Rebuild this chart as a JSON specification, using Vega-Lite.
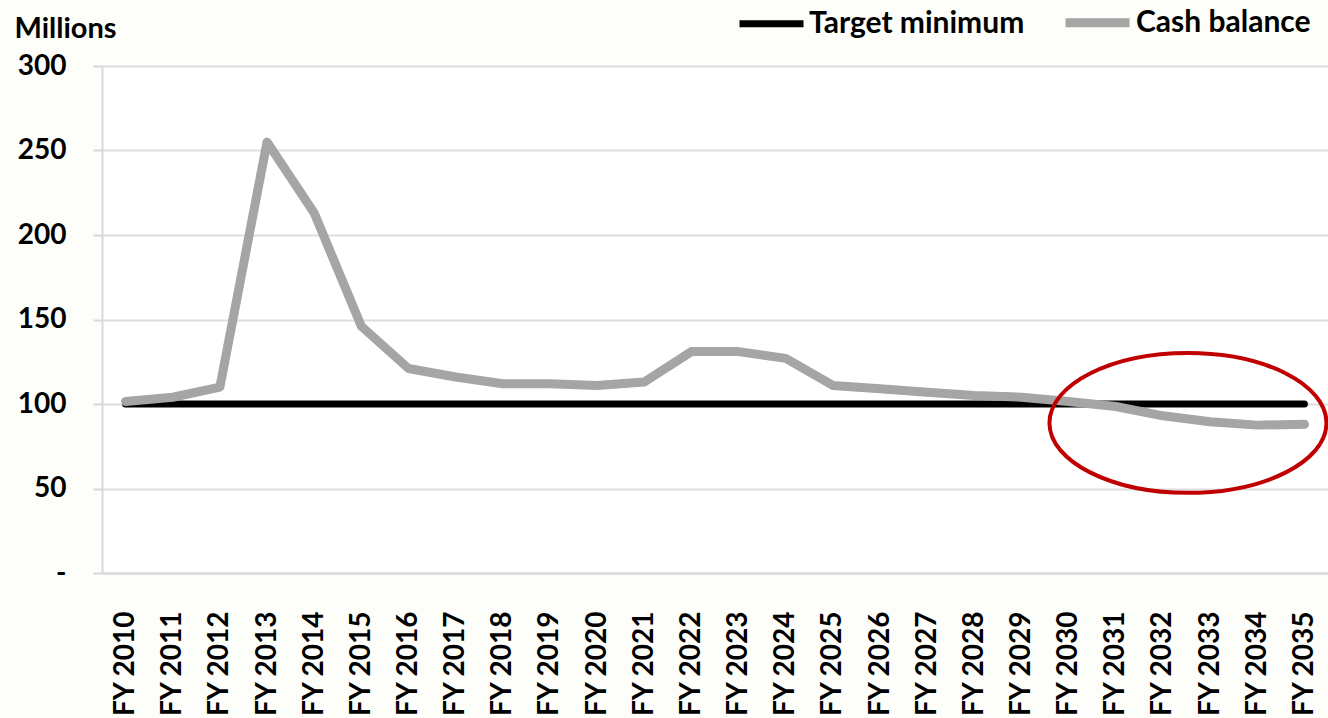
{
  "$schema": "https://vega.github.io/schema/vega-lite/v6.json",
  "width": 1226,
  "height": 507,
  "autosize": {"type": "none"},
  "padding": {"left": 102, "top": 66, "right": 0, "bottom": 145},
  "background": "#fdfdf9",
  "config": {
    "font": "Lato",
    "view": {"fill": "#ffffff", "stroke": null}
  },
  "datasets": {
    "lines": [
      {"year": 2010, "series": "Target minimum", "value": 100},
      {"year": 2011, "series": "Target minimum", "value": 100},
      {"year": 2012, "series": "Target minimum", "value": 100},
      {"year": 2013, "series": "Target minimum", "value": 100},
      {"year": 2014, "series": "Target minimum", "value": 100},
      {"year": 2015, "series": "Target minimum", "value": 100},
      {"year": 2016, "series": "Target minimum", "value": 100},
      {"year": 2017, "series": "Target minimum", "value": 100},
      {"year": 2018, "series": "Target minimum", "value": 100},
      {"year": 2019, "series": "Target minimum", "value": 100},
      {"year": 2020, "series": "Target minimum", "value": 100},
      {"year": 2021, "series": "Target minimum", "value": 100},
      {"year": 2022, "series": "Target minimum", "value": 100},
      {"year": 2023, "series": "Target minimum", "value": 100},
      {"year": 2024, "series": "Target minimum", "value": 100},
      {"year": 2025, "series": "Target minimum", "value": 100},
      {"year": 2026, "series": "Target minimum", "value": 100},
      {"year": 2027, "series": "Target minimum", "value": 100},
      {"year": 2028, "series": "Target minimum", "value": 100},
      {"year": 2029, "series": "Target minimum", "value": 100},
      {"year": 2030, "series": "Target minimum", "value": 100},
      {"year": 2031, "series": "Target minimum", "value": 100},
      {"year": 2032, "series": "Target minimum", "value": 100},
      {"year": 2033, "series": "Target minimum", "value": 100},
      {"year": 2034, "series": "Target minimum", "value": 100},
      {"year": 2035, "series": "Target minimum", "value": 100},
      {"year": 2010, "series": "Cash balance", "value": 101.5},
      {"year": 2011, "series": "Cash balance", "value": 104},
      {"year": 2012, "series": "Cash balance", "value": 110},
      {"year": 2013, "series": "Cash balance", "value": 255},
      {"year": 2014, "series": "Cash balance", "value": 213},
      {"year": 2015, "series": "Cash balance", "value": 146},
      {"year": 2016, "series": "Cash balance", "value": 121},
      {"year": 2017, "series": "Cash balance", "value": 116},
      {"year": 2018, "series": "Cash balance", "value": 112},
      {"year": 2019, "series": "Cash balance", "value": 112},
      {"year": 2020, "series": "Cash balance", "value": 111},
      {"year": 2021, "series": "Cash balance", "value": 113},
      {"year": 2022, "series": "Cash balance", "value": 131},
      {"year": 2023, "series": "Cash balance", "value": 131},
      {"year": 2024, "series": "Cash balance", "value": 127},
      {"year": 2025, "series": "Cash balance", "value": 111},
      {"year": 2026, "series": "Cash balance", "value": 109},
      {"year": 2027, "series": "Cash balance", "value": 107},
      {"year": 2028, "series": "Cash balance", "value": 105},
      {"year": 2029, "series": "Cash balance", "value": 104},
      {"year": 2030, "series": "Cash balance", "value": 101.5},
      {"year": 2031, "series": "Cash balance", "value": 98.5},
      {"year": 2032, "series": "Cash balance", "value": 93},
      {"year": 2033, "series": "Cash balance", "value": 89.5},
      {"year": 2034, "series": "Cash balance", "value": 87.5},
      {"year": 2035, "series": "Cash balance", "value": 88}
    ],
    "annot": [
      {"year": 2032.53, "value": 88.8}
    ]
  },
  "layer": [
    {
      "data": {"name": "lines"},
      "mark": {"type": "line", "strokeCap": "round", "strokeJoin": "round"},
      "encoding": {
        "x": {
          "field": "year",
          "type": "quantitative",
          "scale": {"domain": [2009.5, 2035.5], "nice": false, "zero": false},
          "axis": {
            "title": null,
            "values": [2010, 2011, 2012, 2013, 2014, 2015, 2016, 2017, 2018, 2019, 2020, 2021, 2022, 2023, 2024, 2025, 2026, 2027, 2028, 2029, 2030, 2031, 2032, 2033, 2034, 2035],
            "labelExpr": "'FY ' + datum.value",
            "labelAngle": -90,
            "labelAlign": "right",
            "labelBaseline": "middle",
            "labelFontSize": 28,
            "labelFontWeight": "bold",
            "labelColor": "#000000",
            "labelPadding": 38,
            "labelOverlap": false,
            "labelFlush": false,
            "ticks": false,
            "grid": false,
            "domainColor": "#d9d9d9",
            "domainWidth": 2
          }
        },
        "y": {
          "field": "value",
          "type": "quantitative",
          "scale": {"domain": [0, 300], "nice": false},
          "axis": {
            "title": "Millions",
            "titleAngle": 0,
            "titleAlign": "left",
            "titleBaseline": "alphabetic",
            "titleX": -88,
            "titleY": -29,
            "titleFontSize": 29,
            "titleFontWeight": "bold",
            "titleColor": "#000000",
            "values": [0, 50, 100, 150, 200, 250, 300],
            "labelExpr": "datum.value === 0 ? '-\u00a0\u00a0' : datum.label",
            "labelFontSize": 28,
            "labelFontWeight": "bold",
            "labelColor": "#000000",
            "labelPadding": 27,
            "tickSize": 9,
            "tickColor": "#d9d9d9",
            "tickWidth": 2,
            "grid": true,
            "gridColor": "#dedede",
            "gridWidth": 2,
            "domainColor": "#d9d9d9",
            "domainWidth": 2
          }
        },
        "color": {
          "field": "series",
          "type": "nominal",
          "sort": ["Target minimum", "Cash balance"],
          "scale": {"domain": ["Target minimum", "Cash balance"], "range": ["#000000", "#a5a5a5"]},
          "legend": {
            "title": null,
            "orient": "none",
            "direction": "horizontal",
            "legendX": 634,
            "legendY": -80,
            "symbolType": "stroke",
            "symbolSize": 4096,
            "symbolStrokeWidth": 8,
            "labelFontSize": 30,
            "labelFontWeight": "bold",
            "labelColor": "#000000",
            "labelOffset": 2,
            "labelLimit": 400,
            "columnPadding": 22
          }
        },
        "strokeWidth": {
          "field": "series",
          "type": "nominal",
          "scale": {"domain": ["Target minimum", "Cash balance"], "range": [7, 9]},
          "legend": null
        }
      }
    },
    {
      "data": {"name": "annot"},
      "mark": {
        "type": "point",
        "shape": "M -1 0 C -1 -0.279 -0.552 -0.505 0 -0.505 C 0.552 -0.505 1 -0.279 1 0 C 1 0.279 0.552 0.505 0 0.505 C -0.552 0.505 -1 0.279 -1 0 Z",
        "size": 76729,
        "filled": false,
        "stroke": "#c00000",
        "strokeWidth": 4,
        "opacity": 1
      },
      "encoding": {
        "x": {"field": "year", "type": "quantitative"},
        "y": {"field": "value", "type": "quantitative"}
      }
    }
  ]
}
